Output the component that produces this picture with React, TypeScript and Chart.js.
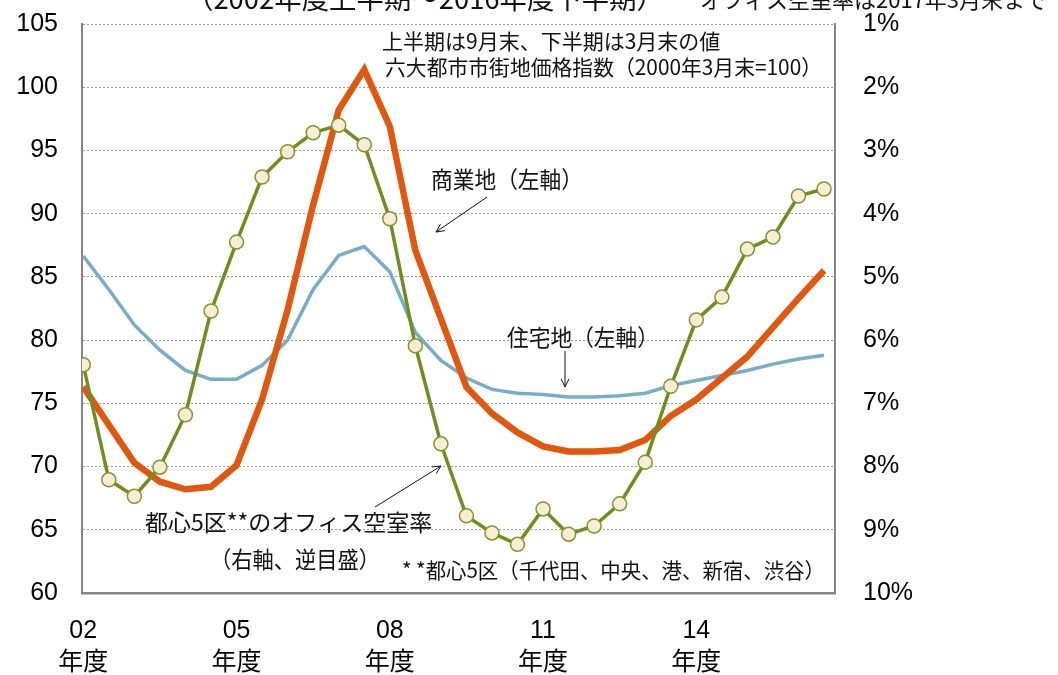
import { useEffect, useRef } from 'react';
import { Chart, registerables } from 'chart.js';

Chart.register(...registerables);

// half-year periods (fiscal year, first / second half)
const periods = [
  '02上', '02下', '03上', '03下', '04上', '04下', '05上', '05下', '06上', '06下',
  '07上', '07下', '08上', '08下', '09上', '09下', '10上', '10下', '11上', '11下',
  '12上', '12下', '13上', '13下', '14上', '14下', '15上', '15下', '16上', '16下',
];

// 商業地 (left axis)
const commercial = [
  76.3, 73.3, 70.3, 68.8, 68.2, 68.4, 70.1, 75.3, 82.4, 90.7,
  98.2, 101.4, 96.9, 87.1, 81.7, 76.3, 74.2, 72.7, 71.6, 71.2,
  71.2, 71.3, 72.1, 74.0, 75.3, 77.0, 78.7, 81.0, 83.3, 85.5,
];

// 住宅地 (left axis)
const residential = [
  86.65, 84.0, 81.2, 79.2, 77.6, 76.9, 76.9, 78.0, 80.0, 84.0,
  86.7, 87.4, 85.4, 80.6, 78.4, 77.0, 76.1, 75.8, 75.7, 75.5,
  75.5, 75.6, 75.8, 76.4, 76.8, 77.2, 77.6, 78.1, 78.5, 78.8,
];

// 都心5区オフィス空室率 % (right axis, reversed)
const vacancy = [
  6.39, 8.21, 8.47, 8.01, 7.18, 5.54, 4.45, 3.42, 3.02, 2.72,
  2.60, 2.91, 4.08, 6.09, 7.64, 8.78, 9.05, 9.23, 8.67, 9.07,
  8.94, 8.59, 7.93, 6.73, 5.68, 5.32, 4.56, 4.37, 3.72, 3.61,
];

const xTickPeriods = ['02上', '05上', '08上', '11上', '14上'];
const xTickLabels = ['02', '05', '08', '11', '14'];
const xTickUnit = '年度';

const TICK_FONT = "'Liberation Sans', Arial, 'Noto Sans CJK JP', sans-serif";
const JP_FONT = "'Noto Sans CJK JP', 'Noto Sans CJK SC', sans-serif";

type Note = { text: string; x: number; y: number; size: number; w: number; align?: CanvasTextAlign; base?: CanvasTextBaseline };
const notes: Note[] = [
  { text: '（2002年度上半期～2016年度下半期）', x: 186, y: 9, size: 28, w: 478, base: 'alphabetic' },
  { text: 'オフィス空室率は2017年3月末まで', x: 700, y: 8, size: 22, w: 355, base: 'alphabetic' },
  { text: '上半期は9月末、下半期は3月末の値', x: 382, y: 41, size: 21, w: 351 },
  { text: '六大都市市街地価格指数（2000年3月末=100）', x: 385, y: 67.5, size: 21, w: 437 },
  { text: '商業地（左軸）', x: 431, y: 179, size: 23, w: 152 },
  { text: '住宅地（左軸）', x: 507, y: 337, size: 23, w: 152 },
  { text: '都心5区**のオフィス空室率', x: 145, y: 522, size: 23, w: 300 },
  { text: '（右軸、逆目盛）', x: 210, y: 559, size: 23, w: 170 },
  { text: '* *都心5区（千代田、中央、港、新宿、渋谷）', x: 402, y: 570, size: 21, w: 423 },
];
const arrows = [
  { from: [487, 197], to: [436, 232] },
  { from: [565, 351], to: [565, 387] },
  { from: [375, 507], to: [441, 466] },
];

const notesPlugin = {
  id: 'notes',
  afterDraw(chart: any) {
    const ctx = chart.ctx as CanvasRenderingContext2D;
    ctx.save();
    ctx.fillStyle = '#111';
    for (const n of notes) {
      ctx.font = `${n.size}px ${JP_FONT}`;
      ctx.textAlign = n.align || 'left';
      ctx.textBaseline = n.base || 'middle';
      ctx.fillText(n.text, n.x, n.y, n.w);
    }
    ctx.strokeStyle = '#111';
    ctx.lineWidth = 1;
    for (const a of arrows) {
      const [x1, y1] = a.from;
      const [x2, y2] = a.to;
      ctx.beginPath();
      ctx.moveTo(x1, y1);
      ctx.lineTo(x2, y2);
      const ang = Math.atan2(y2 - y1, x2 - x1);
      const L = 9;
      ctx.moveTo(x2 - L * Math.cos(ang - 0.45), y2 - L * Math.sin(ang - 0.45));
      ctx.lineTo(x2, y2);
      ctx.lineTo(x2 - L * Math.cos(ang + 0.45), y2 - L * Math.sin(ang + 0.45));
      ctx.stroke();
    }
    ctx.restore();
  },
};

const zeroPad = (s: any) => {
  s.paddingTop = 0;
  s.paddingBottom = 0;
  s.paddingLeft = 0;
  s.paddingRight = 0;
};

export default function App() {
  const ref = useRef<HTMLCanvasElement>(null);
  useEffect(() => {
    if (!ref.current) return;
    const toXY = (arr: number[]) => arr.map((v, i) => ({ x: i, y: v }));
    const tickIdx = xTickPeriods.map((p) => periods.indexOf(p));
    const chart = new Chart(ref.current, {
      type: 'line',
      data: {
        datasets: [
          {
            label: '都心5区オフィス空室率',
            data: toXY(vacancy),
            yAxisID: 'y1',
            borderColor: '#6E8F1E',
            borderWidth: 3.5,
            pointRadius: 7,
            pointBackgroundColor: '#FCEBD5',
            pointBorderColor: '#7A9A28',
            pointBorderWidth: 1.5,
            tension: 0,
            order: 0,
          },
          {
            label: '商業地',
            data: toXY(commercial),
            yAxisID: 'y',
            borderColor: '#E2570E',
            borderWidth: 6.5,
            pointRadius: 0,
            tension: 0,
            order: 1,
          },
          {
            label: '住宅地',
            data: toXY(residential),
            yAxisID: 'y',
            borderColor: '#77ADC6',
            borderWidth: 3.5,
            pointRadius: 0,
            tension: 0,
            order: 2,
          },
        ],
      },
      options: {
        responsive: false,
        animation: false,
        events: [],
        layout: { padding: { left: 0, right: 0, top: 24, bottom: 0 } },
        plugins: { legend: { display: false }, tooltip: { enabled: false }, title: { display: false } },
        scales: {
          x: {
            type: 'linear',
            min: -0.05,
            max: 29.43,
            grid: { display: false, drawTicks: false },
            border: { display: true, color: '#868686', width: 2.5 },
            afterBuildTicks: (s: any) => {
              s.ticks = tickIdx.map((v) => ({ value: v }));
            },
            afterFit: (s: any) => {
              s.height = 82;
              zeroPad(s);
            },
            ticks: {
              autoSkip: false,
              maxRotation: 0,
              padding: 22,
              color: '#000',
              font: { family: TICK_FONT, size: 25, lineHeight: 1.28 },
              callback: (v: any) => {
                const k = tickIdx.indexOf(Number(v));
                return k >= 0 ? [xTickLabels[k], xTickUnit] : '';
              },
            },
          },
          y: {
            position: 'left',
            min: 60,
            max: 105,
            ticks: {
              stepSize: 5,
              padding: 24,
              color: '#000',
              font: { family: TICK_FONT, size: 25 },
            },
            grid: { color: '#9a9a9a', lineWidth: 1, drawTicks: false },
            // in Chart.js 4, border.dash sets the dash of the grid lines (dotted gridlines)
            border: { display: true, color: '#868686', width: 2, dash: [2, 2] },
            afterFit: (s: any) => {
              s.width = 82;
              zeroPad(s);
            },
          },
          y1: {
            position: 'right',
            min: 1,
            max: 10,
            reverse: true,
            ticks: {
              stepSize: 1,
              padding: 28,
              color: '#000',
              font: { family: TICK_FONT, size: 25 },
              callback: (v: any) => `${v}%`,
            },
            grid: { display: false, drawTicks: false },
            border: { display: true, color: '#868686', width: 2 },
            afterFit: (s: any) => {
              s.width = 223;
              zeroPad(s);
            },
          },
        },
      },
      plugins: [notesPlugin],
    } as any);
    return () => chart.destroy();
  }, []);
  return (
    <div style={{ position: 'absolute', left: 0, top: 0, width: 1058, height: 675, background: '#fff' }}>
      <canvas ref={ref} width={1058} height={675} style={{ display: 'block' }} />
    </div>
  );
}
